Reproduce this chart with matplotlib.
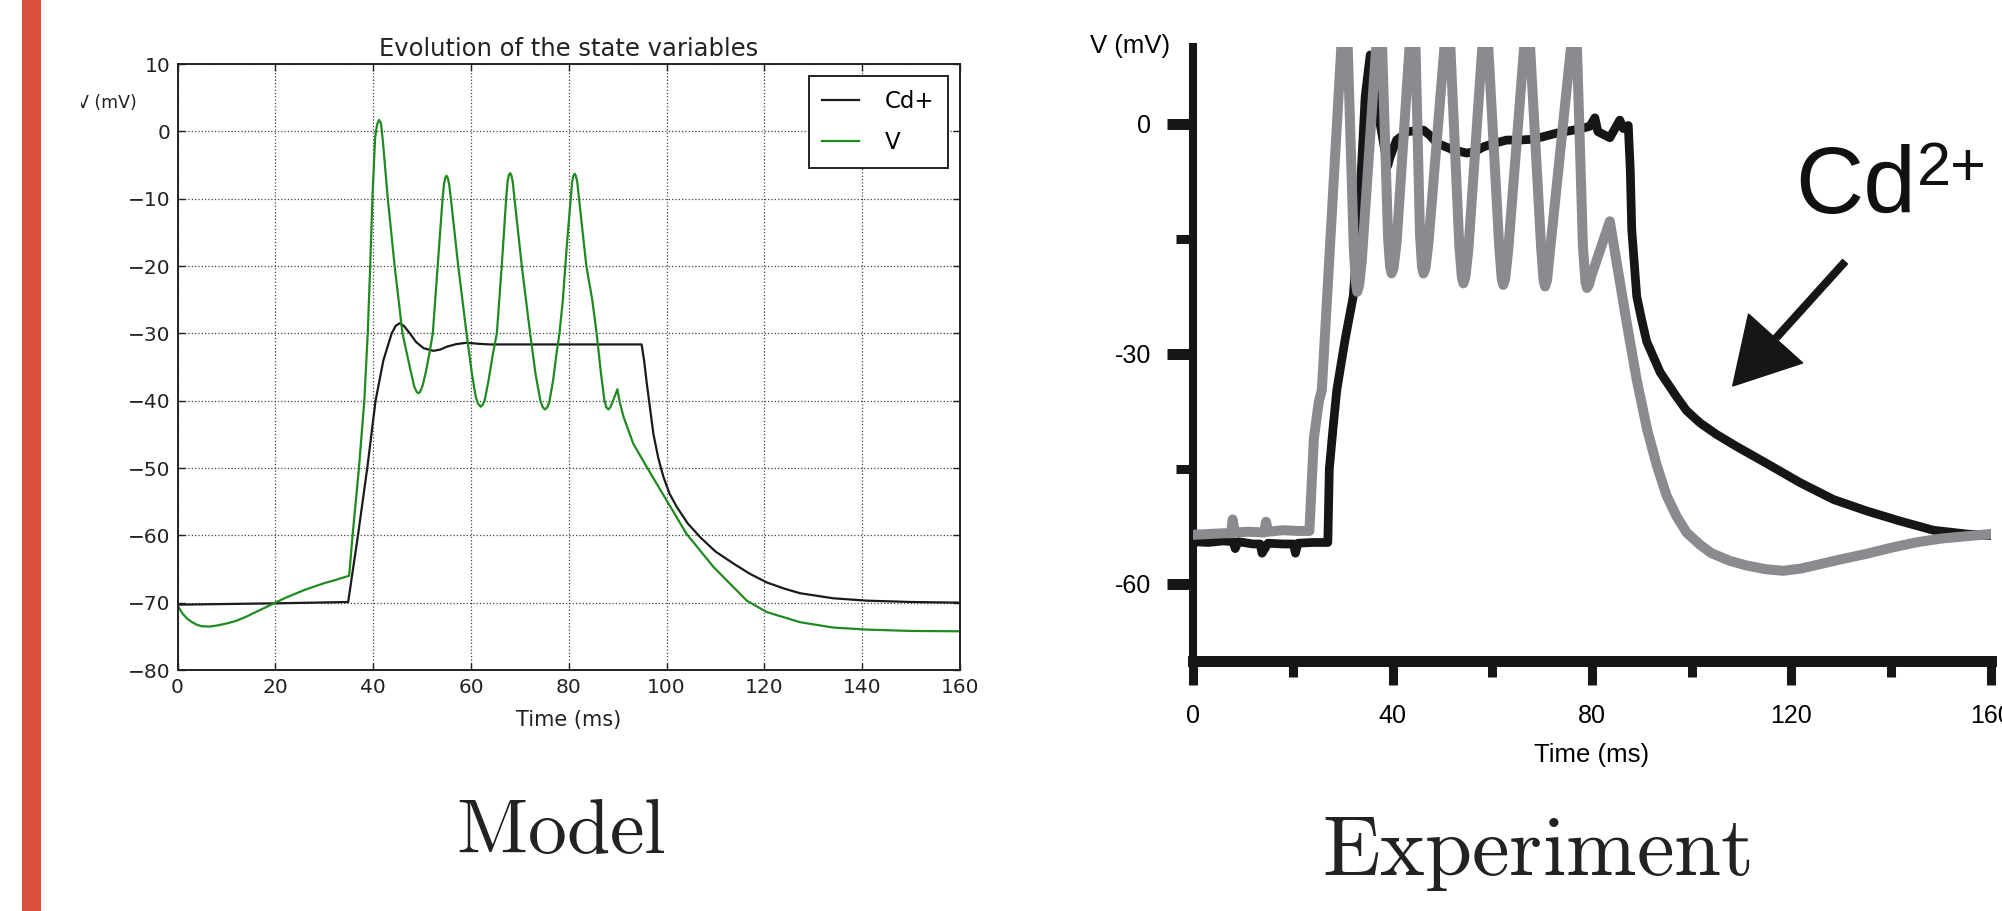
import matplotlib
matplotlib.use('Agg')
import matplotlib.pyplot as plt
from matplotlib.patches import Rectangle, FancyArrow
from matplotlib.transforms import IdentityTransform

plt.rcParams['mathtext.fontset'] = 'cm'

# ---------------- data: model panel ----------------
model_cd_t = [0, 10, 20, 34.9, 36.9, 38.8, 40.5, 42.1, 43.8, 44.6, 45.4, 46.3, 47.5, 48.8,
              50.3, 52.3, 53.8, 55.0, 57.0, 59.1, 61.5, 63.9, 94.9, 95.4, 95.95, 96.6,
              97.3, 98.3, 99.35, 100.6, 102.1, 104.3, 106.9, 110, 113.7, 117, 120.5, 124,
              127.3, 134.1, 140.9, 150, 160]
model_cd_v = [-70.3, -70.2, -70.1, -69.9, -60, -50, -40, -34, -30, -28.9, -28.5, -28.9, -30,
              -31.3, -32.2, -32.6, -32.4, -32.0, -31.6, -31.4, -31.55, -31.65, -31.65, -34,
              -37.4, -41, -44.9, -48.5, -51.3, -53.8, -55.8, -58.2, -60.3, -62.4, -64.2,
              -65.7, -67.0, -67.9, -68.6, -69.35, -69.7, -69.9, -70.0]

model_v_t = [0, 1, 2, 3, 4, 5, 6.5, 8, 10, 12, 14, 16, 18, 20, 22, 24, 26, 28, 30, 32, 35.1,
             35.8, 37.1, 38.2, 38.9, 39.4, 39.85, 40.4, 40.8, 41.2, 41.6, 42.0, 43.0, 44.4,
             46.0, 47.5, 48.4, 48.9, 49.25, 49.6, 50.1, 50.8, 51.5, 52.2, 53.2, 54.2, 54.5,
             54.75, 55.0, 55.25, 55.55, 55.9, 57.4, 59.1, 60.2, 61.0, 61.5, 62.0, 62.4, 62.8,
             63.6, 64.5, 65.3, 66.3, 67.2, 67.5, 67.75, 68.0, 68.25, 68.55, 68.9, 70.4, 72.1,
             73.2, 74.2, 74.7, 75.15, 75.6, 76.0, 76.8, 77.5, 78.1, 78.8, 79.6, 80.4, 80.7,
             80.95, 81.2, 81.45, 81.75, 82.1, 83.6, 84.8, 85.7, 86.6, 87.3, 87.7, 88.1, 88.5,
             88.9, 89.95, 90.35, 91.2, 93.2, 95.95, 100, 104.1, 109.6, 116.4, 120.5, 127.3,
             134.1, 140.9, 150, 160]
model_v_v = [-70.4, -71.6, -72.4, -72.9, -73.3, -73.5, -73.55, -73.4, -73.1, -72.7, -72.1,
             -71.4, -70.7, -70.0, -69.3, -68.7, -68.1, -67.6, -67.1, -66.7, -66.0,
             -60, -50, -40, -30, -20, -10, -1, 1.0, 1.7, 1.2, -1.5, -10, -20,
             -30, -35, -37.9, -38.7, -38.9, -38.7, -37.8, -35.7, -33, -30, -20, -10, -7.8,
             -6.9, -6.6, -6.9, -7.9, -10, -20, -30, -36, -39.5, -40.5, -40.9, -40.6, -40,
             -37, -33, -30, -20, -10, -7.4, -6.5, -6.2, -6.5, -7.5, -10, -20, -30,
             -36, -40, -41.0, -41.3, -41.0, -40.3, -37, -33, -30, -25, -17, -10, -7.5,
             -6.6, -6.3, -6.6, -7.6, -10, -20, -25, -30, -36, -40, -41.0, -41.3, -41.0,
             -40.3, -38.3, -40, -42.4, -46.4, -49.85, -54.8, -59.8, -64.7, -69.7, -71.4, -72.9,
             -73.7, -74.0, -74.2, -74.25]

model_xticks = [0, 20, 40, 60, 80, 100, 120, 140, 160]
model_yticks = [-80, -70, -60, -50, -40, -30, -20, -10, 0, 10]

# ---------------- data: experiment panel ----------------
exp_cd_t = [0, 3, 6, 8, 8.4, 9, 12, 13.4, 13.8, 15, 18, 20.1, 20.5, 21, 24, 27.0, 27.3, 28.0,
            28.8, 30.5, 32.1, 33.1, 34.5, 35.5, 36.3, 37.5, 39.0, 39.5, 40.8, 43, 46.2, 47.5,
            48.9, 52.2, 54.9, 56.5, 58.2, 60, 62.9, 65.6, 68, 70, 72.9, 76.3, 78.5, 79.6,
            80.6, 81.2, 83.6, 85.6, 86.3, 87.3, 87.7, 88.0, 89.0, 90.0, 91.0, 93.7, 97.0,
            99.0, 101.7, 105, 109.1, 115.1, 121.8, 128.5, 135.2, 141.8, 148.5, 155.2, 160]
exp_cd_v = [-54.5, -54.6, -54.4, -54.5, -55.4, -54.5, -54.8, -54.8, -56.0, -54.7, -54.8,
            -54.8, -56.0, -54.7, -54.6, -54.6, -45, -40, -34.7, -28, -22.5, -13.8, 3.6, 9.0,
            7.5, 0, -5.5, -4.3, -2.1, -1.0, -0.8, -1.5, -2.5, -3.4, -3.8, -3.6, -3.0, -2.6,
            -2.1, -2.1, -2.0, -1.7, -1.2, -0.8, -0.5, -0.3, 0.8, -1.0, -1.8, 0.5, -0.6, -0.2,
            -6, -13.8, -22.5, -25.6, -28.4, -32.4, -35.6, -37.4, -39.0, -40.5, -42.1, -44.3,
            -46.8, -49.0, -50.5, -51.8, -53.0, -53.5, -53.7]

exp_ctrl_t = [0, 3, 6, 7.6, 7.9, 8.3, 11, 14.2, 14.6, 15, 18, 21, 23.3, 24.2, 25.2, 25.8,
              29.7, 30.4, 31.0, 32.2, 32.6, 32.9, 33.3, 33.8,
              36.7, 37.3, 37.9, 39.1, 39.5, 39.8, 40.2, 40.8,
              43.4, 44.0, 44.6, 45.5, 45.9, 46.2, 46.6, 47.2,
              50.4, 51.0, 51.6, 53.4, 53.9, 54.2, 54.6, 55.2,
              58.0, 58.6, 59.2, 61.4, 61.9, 62.2, 62.6, 63.2,
              66.4, 67.0, 67.6, 69.8, 70.3, 70.6, 71.0, 71.6,
              75.8, 76.4, 77.0, 78.2, 78.7, 79.0, 79.4, 79.9,
              83.6, 85.0, 87.0, 89.0, 91.1, 93, 95, 97, 99, 101.7, 104,
              107.7, 111, 115, 118.4, 122, 126, 130, 135, 140, 145, 150, 155, 160]
exp_ctrl_v = [-53.6, -53.5, -53.4, -53.4, -51.6, -53.3, -53.2, -53.3, -51.9, -53.2, -53.0,
              -53.1, -53.1, -41, -36.2, -34.7,
              10, 16, 10, -16, -20.5, -21.9, -21.0, -18,
              10, 16, 10, -15, -18.6, -19.5, -18.8, -15.5,
              10, 16, 10, -14.5, -18.6, -19.5, -18.8, -15.5,
              10, 16, 10, -16, -20.0, -20.8, -20.0, -16.5,
              10, 16, 10, -16, -20.2, -21.0, -20.2, -16.5,
              10, 16, 10, -16, -20.4, -21.2, -20.4, -16.5,
              10, 16, 10, -16, -20.6, -21.4, -21.0, -19.8,
              -12.7, -18.2, -26, -33.4, -39.9, -44.5, -48.5, -51.2, -53.3, -54.9, -56.0,
              -57.0, -57.6, -58.1, -58.3, -58.0, -57.4, -56.8, -56.1, -55.3, -54.6, -54.1,
              -53.8, -53.5]

exp_xticks = [0, 40, 80, 120, 160]
exp_xminor = [20, 60, 100, 140]
exp_yticks = [-60, -30, 0]
exp_yticklabels = ['-60', '-30', '0']
exp_yminor = [-45, -15]

# ---------------- figure ----------------
W, H, DPI = 2002, 911, 100
fig = plt.figure(figsize=(W / DPI, H / DPI), dpi=DPI)
fig.patch.set_facecolor('white')


def fx(px):
    return px / W


def fy(py):
    return 1 - py / H


# red slide bar
fig.add_artist(Rectangle((fx(22), 0), fx(41) - fx(22), 1, transform=fig.transFigure,
                         facecolor='#D9503A', edgecolor='none'))

# ---- model axes ----
ax1 = fig.add_axes([177.5 / W, 1 - 670 / H, 782.5 / W, 606 / H])
ax1.plot(model_cd_t, model_cd_v, color='#1a1a1a', lw=1.6, label='Cd+')
ax1.plot(model_v_t, model_v_v, color='#1f8a1f', lw=1.6, label='V')
ax1.set_xlim(0, 160)
ax1.set_ylim(-80, 10)
ax1.set_xticks(model_xticks)
ax1.set_yticks(model_yticks)
ax1.grid(True, color='#444444', linestyle=':', linewidth=0.9)
ax1.tick_params(direction='in', top=True, right=True, length=5, width=1, labelsize=14.5,
                colors='#222222')
ax1.tick_params(axis='x', pad=6)
ax1.tick_params(axis='y', pad=5)
for s in ax1.spines.values():
    s.set_linewidth(1.4)
    s.set_color('#222222')
ax1.set_title('Evolution of the state variables', fontsize=17.5, pad=6, color='#222222')
ax1.set_xlabel('Time (ms)', fontsize=15, labelpad=9, color='#222222')
leg = ax1.legend(loc='upper right', fontsize=16.5, frameon=True, fancybox=False,
                 edgecolor='#222222', handlelength=1.6, handletextpad=1.13, borderpad=0.6,
                 labelspacing=0.8, borderaxespad=0.52, framealpha=1)
leg.get_frame().set_linewidth(1.4)

fig.text(fx(137), fy(103), 'V (mV)', fontsize=12.5, ha='right', va='center',
         color='#222222')
# the slide crops the left edge of the model picture through the "V"
fig.add_artist(Rectangle((45, H - 122), 80.5 - 45, 40, transform=IdentityTransform(),
                         facecolor='white', edgecolor='none', zorder=20))

# ---- experiment axes ----
ax2 = fig.add_axes([1193.3 / W, 1 - 660.5 / H, 797.2 / W, (660.5 - 47.3) / H])
ax2.patch.set_alpha(0)
ax2.plot(exp_cd_t, exp_cd_v, color='#161616', lw=6.3, solid_joinstyle='round', zorder=2)
ax2.plot(exp_ctrl_t, exp_ctrl_v, color='#898b8f', lw=7.2, solid_joinstyle='round', zorder=3)
ax2.set_xlim(0, 160)
ax2.set_ylim(-70, 10)
for s in ['top', 'right']:
    ax2.spines[s].set_visible(False)
ax2.spines['left'].set_linewidth(5.8)
ax2.spines['bottom'].set_linewidth(7.9)
ax2.spines['left'].set_color('#161616')
ax2.spines['bottom'].set_color('#161616')
ax2.set_xticks(exp_xticks)
ax2.set_xticks(exp_xminor, minor=True)
ax2.set_yticks(exp_yticks)
ax2.set_yticklabels(exp_yticklabels)
ax2.set_yticks(exp_yminor, minor=True)
ax2.tick_params(axis='x', which='major', direction='out', length=17.6, width=6.5, pad=14,
                labelsize=18, color='#161616')
ax2.tick_params(axis='x', which='minor', direction='out', length=11.2, width=6.5,
                color='#161616')
ax2.tick_params(axis='y', which='major', direction='out', length=18.7, width=7.9, pad=11.5,
                labelsize=18, color='#161616')
ax2.tick_params(axis='y', which='minor', direction='out', length=12, width=6.5,
                color='#161616')
for lab in ax2.get_xticklabels() + ax2.get_yticklabels():
    lab.set_fontfamily('Liberation Sans')
ax2.set_xlabel('Time (ms)', fontsize=18.5, family='Liberation Sans', labelpad=10.5)

fig.text(fx(1130.5), fy(46.5), 'V (mV)', fontsize=18.5, family='Liberation Sans',
         ha='center', va='center')

fig.text(fx(1795), fy(213), 'Cd', fontsize=68, family='Liberation Sans', ha='left',
         va='baseline', color='#111111')
fig.text(fx(1917), fy(185), '2+', fontsize=44, family='Liberation Sans', ha='left',
         va='baseline', color='#111111')

fig.add_artist(FancyArrow(1845, H - 261.7, -112.3, -(386 - 261.7), width=6.7,
                          head_width=73, head_length=64, length_includes_head=True,
                          color='#161616', transform=IdentityTransform()))

# slide captions
fig.text(fx(561), fy(853), r'$\mathrm{Model}$', fontsize=56, ha='center', va='baseline',
         color='#222222')
fig.text(fx(1536), fy(875), r'$\mathrm{Experiment}$', fontsize=61, ha='center',
         va='baseline', color='#222222')

fig.savefig('out.png', dpi=DPI, facecolor='white')
